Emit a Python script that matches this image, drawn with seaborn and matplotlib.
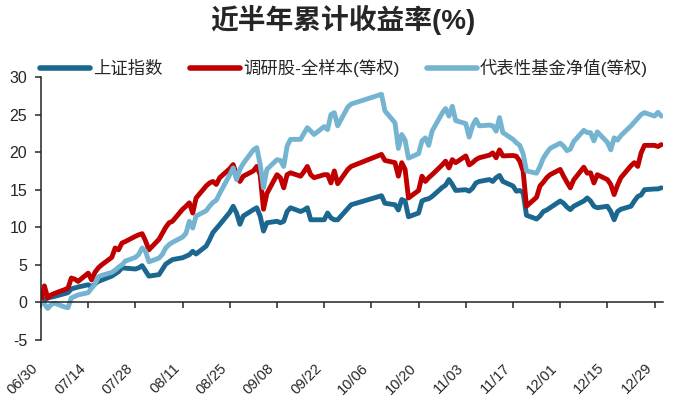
#!/usr/bin/env python3
# -*- coding: utf-8 -*-

import pandas as pd
import matplotlib
matplotlib.use('Agg')
import matplotlib.pyplot as plt
import seaborn as sns

# 上证指数
sh_dates = ['06-30', '07-02', '07-04', '07-08', '07-09', '07-11', '07-14', '07-15', '07-17', '07-21',
            '07-23', '07-24', '07-28', '07-29', '07-30', '08-01', '08-04', '08-05', '08-06', '08-08',
            '08-11', '08-13', '08-14', '08-15', '08-18', '08-19', '08-20', '08-22', '08-25', '08-26',
            '08-27', '08-28', '08-29', '09-01', '09-02', '09-03', '09-04', '09-05', '09-08', '09-09',
            '09-10', '09-11', '09-12', '09-15', '09-16', '09-17', '09-18', '09-19', '09-22', '09-23',
            '09-24', '09-25', '09-26', '09-29', '09-30', '10-09', '10-10', '10-13', '10-14', '10-15',
            '10-16', '10-17', '10-20', '10-21', '10-22', '10-23', '10-24', '10-27', '10-28', '10-29',
            '10-30', '10-31', '11-03', '11-04', '11-05', '11-06', '11-07', '11-10', '11-11', '11-12',
            '11-13', '11-14', '11-17', '11-18', '11-19', '11-20', '11-21', '11-24', '11-25', '11-26',
            '11-27', '11-28', '12-01', '12-02', '12-03', '12-04', '12-05', '12-08', '12-09', '12-10',
            '12-11', '12-12', '12-15', '12-16', '12-17', '12-18', '12-19', '12-22', '12-23', '12-24',
            '12-25', '12-26', '12-29', '12-30', '12-31']
sh_vals = [0.0, 0.6, 0.8, 1.3, 1.8, 2.05, 2.35, 2.1, 2.8, 3.5,
           4.1, 4.6, 4.45, 4.6, 4.9, 3.5, 3.7, 4.4, 5.1, 5.7,
           5.95, 6.35, 6.8, 6.45, 7.5, 8.35, 9.3, 10.35, 12.0, 12.8,
           11.9, 10.4, 11.5, 12.35, 12.6, 11.5, 9.5, 10.6, 10.8, 10.6,
           10.8, 12.1, 12.6, 12.1, 12.3, 12.6, 11.0, 11.0, 11.0, 11.9,
           11.25, 11.0, 11.0, 12.5, 13.0, 14.2, 13.2, 13.0, 12.3, 13.7,
           13.5, 11.4, 11.9, 13.5, 13.7, 13.8, 14.1, 15.3, 15.6, 16.35,
           15.7, 14.9, 15.0, 14.8, 15.2, 15.9, 16.1, 16.35, 16.1, 16.6,
           16.9, 16.1, 15.5, 14.8, 14.9, 14.6, 11.6, 11.1, 11.5, 12.1,
           12.3, 12.6, 13.5, 13.2, 12.7, 12.35, 12.8, 13.5, 13.9, 13.5,
           12.8, 12.6, 12.8, 12.1, 11.0, 12.1, 12.4, 12.8, 13.5, 14.1,
           14.3, 15.0, 15.1, 15.1, 15.25]

# 调研股-全样本(等权)
dy_dates = ['06-30', '07-01', '07-02', '07-03', '07-04', '07-07', '07-08', '07-09', '07-10', '07-11',
            '07-14', '07-15', '07-16', '07-17', '07-18', '07-21', '07-22', '07-23', '07-24', '07-25',
            '07-28', '07-29', '07-30', '07-31', '08-01', '08-04', '08-05', '08-06', '08-07', '08-08',
            '08-11', '08-12', '08-13', '08-14', '08-15', '08-18', '08-19', '08-20', '08-21', '08-22',
            '08-25', '08-26', '08-27', '08-28', '08-29', '09-01', '09-02', '09-03', '09-04', '09-05',
            '09-08', '09-09', '09-10', '09-11', '09-12', '09-15', '09-16', '09-17', '09-18', '09-19',
            '09-22', '09-23', '09-24', '09-25', '09-26', '09-29', '09-30', '10-09', '10-10', '10-13',
            '10-14', '10-15', '10-16', '10-17', '10-20', '10-21', '10-22', '10-23', '10-24', '10-27',
            '10-28', '10-29', '10-30', '10-31', '11-03', '11-04', '11-05', '11-06', '11-07', '11-10',
            '11-11', '11-12', '11-13', '11-14', '11-17', '11-18', '11-19', '11-20', '11-21', '11-24',
            '11-25', '11-26', '11-27', '11-28', '12-01', '12-02', '12-03', '12-04', '12-05', '12-08',
            '12-09', '12-10', '12-11', '12-12', '12-15', '12-16', '12-17', '12-18', '12-19', '12-22',
            '12-23', '12-24', '12-25', '12-26', '12-29', '12-30', '12-31']
dy_vals = [0.0, 2.2, 0.6, 1.0, 1.2, 1.7, 1.9, 3.25, 3.1, 2.8,
           3.9, 3.0, 4.0, 4.6, 5.0, 6.0, 7.25, 7.0, 7.9, 8.1,
           8.8, 9.0, 9.15, 8.2, 7.0, 8.4, 9.2, 10.0, 10.6, 10.8,
           12.4, 12.8, 13.25, 11.9, 13.9, 15.5, 15.9, 16.1, 15.7, 16.6,
           17.8, 18.35, 17.0, 16.1, 16.8, 17.5, 18.1, 17.0, 12.4, 14.5,
           17.0, 16.6, 15.25, 17.0, 17.25, 16.8, 17.4, 18.1, 17.0, 16.6,
           17.0, 17.0, 15.9, 17.5, 15.8, 17.7, 18.1, 19.7, 18.9, 18.6,
           16.8, 18.6, 17.7, 13.9, 14.9, 16.8, 16.1, 16.6, 17.0, 18.3,
           18.8, 17.9, 19.0, 18.6, 19.5, 18.3, 18.6, 19.0, 19.25, 19.6,
           19.9, 19.25, 20.3, 19.5, 19.55, 19.45, 18.8, 17.5, 12.8, 14.0,
           15.5, 16.0, 16.6, 17.0, 17.7, 16.8, 16.0, 15.25, 16.3, 18.0,
           17.2, 17.25, 15.9, 17.0, 16.35, 15.7, 14.35, 15.6, 16.6, 18.2,
           18.6, 18.1, 19.9, 20.9, 20.9, 20.75, 21.0]

# 代表性基金净值(等权)
jj_dates = dy_dates
jj_vals = [0.0, -0.2, -0.8, -0.3, -0.1, -0.6, -0.7, 0.6, 0.8, 1.0,
           1.3, 1.9, 2.4, 3.4, 3.6, 4.0, 4.3, 4.7, 5.0, 5.5,
           6.0, 6.4, 7.25, 6.8, 5.4, 5.9, 6.4, 7.25, 7.7, 8.0,
           8.7, 9.2, 10.8, 9.9, 11.5, 12.2, 12.8, 13.3, 13.6, 14.5,
           17.0, 17.9, 16.35, 17.7, 18.5, 20.3, 20.6, 18.4, 15.25, 17.7,
           19.0, 18.9, 18.1, 20.8, 21.7, 21.7, 22.5, 23.25, 22.8, 22.35,
           23.4, 23.0, 25.0, 25.25, 23.5, 26.0, 26.4, 27.7, 25.5, 23.9,
           20.5, 22.35, 21.6, 19.2, 19.8, 21.5, 21.9, 20.9, 22.8, 25.2,
           25.8, 24.8, 26.1, 24.2, 23.8, 22.0, 23.5, 24.35, 23.5, 23.6,
           23.5, 22.8, 24.6, 22.6, 21.7, 21.25, 20.9, 19.8, 17.5, 17.2,
           18.1, 19.2, 19.9, 20.5, 21.2, 20.8, 20.2, 20.4, 21.4, 22.9,
           22.6, 22.6, 21.5, 22.7, 21.3, 20.3, 21.9, 21.6, 22.2, 23.5,
           24.0, 24.5, 25.0, 25.25, 24.8, 25.3, 24.8]

series_names = ['上证指数', '调研股-全样本(等权)', '代表性基金净值(等权)']
series_colors = ['#1b6790', '#c00000', '#74b4d0']
tick_labels = ['06/30', '07/14', '07/28', '08/11', '08/25', '09/08', '09/22',
               '10/06', '10/20', '11/03', '11/17', '12/01', '12/15', '12/29']


def build_frame():
    parts = []
    for name, dates, vals in zip(series_names,
                                 [sh_dates, dy_dates, jj_dates],
                                 [sh_vals, dy_vals, jj_vals]):
        parts.append(pd.DataFrame({
            'date': pd.to_datetime(['2025-' + d for d in dates]),
            'value': vals,
            'series': name,
        }))
    return pd.concat(parts, ignore_index=True)


def main():
    df = build_frame()

    sns.set_style('ticks')
    plt.rcParams['font.family'] = ['Liberation Sans', 'Noto Sans CJK SC']
    plt.rcParams['axes.unicode_minus'] = False

    fig = plt.figure(figsize=(6.81, 4.04), dpi=100)
    ax = fig.add_axes([0.0602, 0.1584, 0.9134, 0.651])

    sns.lineplot(data=df, x='date', y='value', hue='series', hue_order=series_names,
                 palette=dict(zip(series_names, series_colors)), linewidth=3.5,
                 ax=ax, legend=True)

    # x axis sits at zero (do this before ticks: it resets them)
    ax.spines['bottom'].set_position(('data', 0))
    ax.spines['top'].set_visible(False)
    ax.spines['right'].set_visible(False)
    for s in ['left', 'bottom']:
        ax.spines[s].set_linewidth(1.1)
        ax.spines[s].set_color('#222222')

    # axes limits / ticks
    ax.set_ylim(-5, 30)
    ax.set_yticks(range(-5, 31, 5))
    ax.set_xlim(pd.Timestamp('2025-06-30'), pd.Timestamp('2025-12-31 12:00'))
    ax.set_xticks(pd.to_datetime(['2025-' + t.replace('/', '-') for t in tick_labels]))
    ax.set_xticklabels(tick_labels)
    ax.set_xlabel('')
    ax.set_ylabel('')

    ax.tick_params(axis='x', direction='out', length=4, width=1.1, pad=38,
                   labelsize=10.5, labelrotation=45)
    ax.tick_params(axis='y', direction='out', length=4, width=1.1, pad=6, labelsize=11.5)
    plt.setp(ax.get_xticklabels(), ha='right', rotation_mode='default')

    # legend
    handles, labels = ax.get_legend_handles_labels()
    ax.legend(handles, labels, ncol=3, loc='center', frameon=False,
              bbox_to_anchor=(0.505, 1 - 68 / 404), bbox_transform=fig.transFigure,
              fontsize=12.5, handlelength=2.9, handletextpad=0.15, columnspacing=1.6)
    for line in ax.get_legend().get_lines():
        line.set_linewidth(4)

    fig.text(0.503, 1 - 20 / 404, '近半年累计收益率(%)', ha='center', va='center',
             fontsize=20, fontweight='bold')

    fig.savefig('out.png', dpi=100)
    plt.close(fig)


if __name__ == '__main__':
    main()
